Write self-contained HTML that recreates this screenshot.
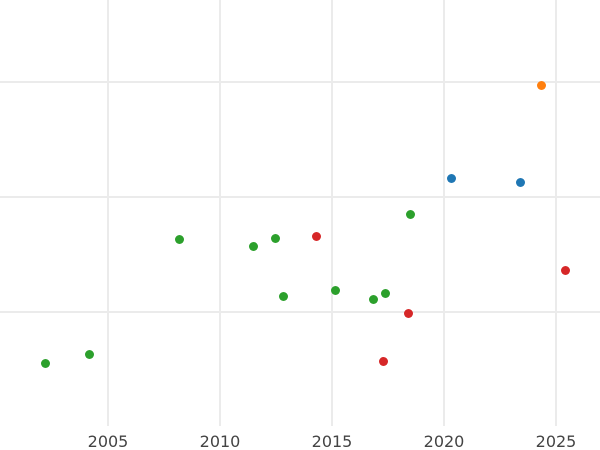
<!DOCTYPE html><html><head><style>body{margin:0;background:#fff}</style></head><body>
<svg width="600" height="450" xmlns="http://www.w3.org/2000/svg" style="display:block">
<g stroke="#ebebeb" stroke-width="2">
<line x1="0" y1="82" x2="600" y2="82"/><line x1="0" y1="197" x2="600" y2="197"/><line x1="0" y1="312" x2="600" y2="312"/>
<line x1="108" y1="0" x2="108" y2="426"/><line x1="220" y1="0" x2="220" y2="426"/><line x1="332" y1="0" x2="332" y2="426"/><line x1="444" y1="0" x2="444" y2="426"/><line x1="556" y1="0" x2="556" y2="426"/>
</g>
<g font-family="DejaVu Sans, sans-serif" font-size="16" fill="#444" text-anchor="middle">
<text x="108" y="447">2005</text><text x="220" y="447">2010</text><text x="332" y="447">2015</text><text x="444" y="447">2020</text><text x="556" y="447">2025</text>
</g>
<g transform="translate(0.5,0.5)">
<g fill="#2ca02c">
<circle cx="45" cy="363" r="4.5"/><circle cx="89" cy="354" r="4.5"/><circle cx="179" cy="239" r="4.5"/><circle cx="253" cy="246" r="4.5"/><circle cx="275" cy="238" r="4.5"/><circle cx="283" cy="296" r="4.5"/><circle cx="335" cy="290" r="4.5"/><circle cx="373" cy="299" r="4.5"/><circle cx="385" cy="293" r="4.5"/><circle cx="410" cy="214" r="4.5"/>
</g>
<g fill="#d62728">
<circle cx="316" cy="236" r="4.5"/><circle cx="383" cy="361" r="4.5"/><circle cx="408" cy="313" r="4.5"/><circle cx="565" cy="270" r="4.5"/>
</g>
<g fill="#1f77b4"><circle cx="451" cy="178" r="4.5"/><circle cx="520" cy="182" r="4.5"/></g>
<circle cx="541" cy="85" r="4.5" fill="#ff7f0e"/>
</g>
</svg></body></html>
